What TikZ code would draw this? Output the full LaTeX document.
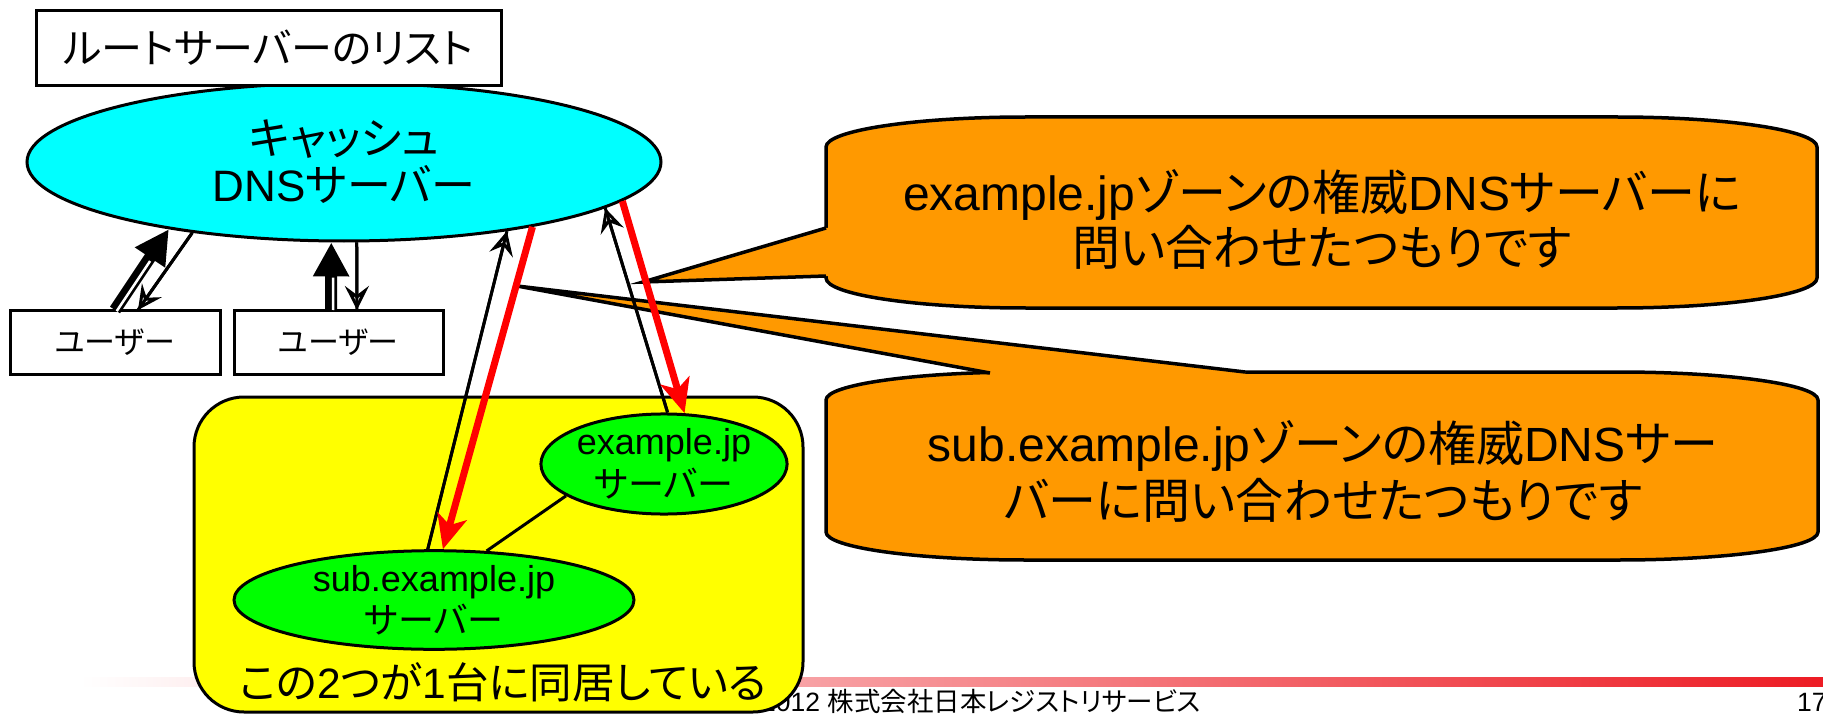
\documentclass[tikz,border=0pt]{standalone}
\usepackage{fontspec}
\setmainfont{Liberation Sans}
\newfontfamily\jpfont[RawFeature=+palt]{Noto Sans CJK JP}
\newcommand{\jtxt}[1]{{\jpfont #1}}
\newcommand{\fsz}[2]{\fontsize{#1pt}{#2pt}\selectfont}
\usetikzlibrary{shapes.geometric,arrows.meta,calc}
\definecolor{cyanfill}{RGB}{0,255,255}
\definecolor{greenfill}{RGB}{0,255,0}
\definecolor{yellowfill}{RGB}{255,255,0}
\definecolor{orangefill}{RGB}{255,153,0}
\definecolor{redline}{RGB}{255,0,0}
\definecolor{footred}{RGB}{237,28,36}
\begin{document}
\begin{tikzpicture}[x=1pt,y=-1pt,
  box/.style={draw=black,line width=3pt,fill=white,inner sep=0pt},
  ell/.style={ellipse,draw=black,line width=3pt,inner sep=0pt,align=center},
  callout/.style={fill=orangefill,draw=black,line width=3.5pt,line join=round},
  thinarrow/.style={draw=black,line width=3pt,-{Stealth[open,length=24pt,width=24pt,inset=9pt]}},
  thinline/.style={draw=black,line width=3pt},
  thickarrow/.style={draw=black,line width=12pt,-{Triangle[length=34pt,width=34pt]}},
  stripe/.style={draw=white,line width=2.5pt},
  redarrow/.style={draw=redline,line width=7pt,-{Stealth[length=34pt,width=30pt,inset=9pt]}},
  lbl/.style={inner sep=0pt,align=center}
]
\useasboundingbox (0,0) rectangle (1823,714);
\clip (0,0) rectangle (1823,714);
\fill[white] (0,0) rectangle (1823,714);

% footer
\shade[left color=white,middle color=footred!40!white,right color=footred] (80,677) rectangle (1823,686);
\node[anchor=base west,inner sep=0pt,font=\fsz{26.5}{30}] (foot) at (761,711) {2012 \jtxt{株式会社日本レジストリサービス}};
\node[anchor=base west,inner sep=0pt,font=\fsz{26.5}{30}] (page) at (1797,711) {17};

% group box
\node[draw=black,line width=3pt,fill=yellowfill,rounded corners=50pt,minimum width=609pt,minimum height=315pt] (grp) at (498.5,554.5) {};
\node[lbl,font=\fsz{42.5}{46}] (grptxt) at (503,682) {\jtxt{この}2\jtxt{つが}1\jtxt{台に同居している}};

% cache server and root list
\node[ell,fill=cyanfill,minimum width=634pt,minimum height=158pt,font=\fsz{44}{47}] (cache) at (344,162) {\jtxt{キャッシュ}\\DNS\jtxt{サーバー}};
\node[box,minimum width=465pt,minimum height=75pt,font=\fsz{41}{46}] (root) at (268.5,48) {\jtxt{ルートサーバーのリスト}};

% users
\node[box,minimum width=210pt,minimum height=64pt,font=\fsz{31}{36}] (u1) at (115,342) {\jtxt{ユーザー}};
\node[box,minimum width=209pt,minimum height=64pt,font=\fsz{31}{36}] (u2) at (338.5,342) {\jtxt{ユーザー}};

% authoritative servers
\node[ell,fill=greenfill,minimum width=244pt,minimum height=92pt,font=\fsz{36}{43}] (ex) at (664,464) {example.jp\\\jtxt{サーバー}};
\node[ell,fill=greenfill,minimum width=400pt,minimum height=92pt,font=\fsz{36}{42}] (sub) at (434,600) {sub.example.jp\\\jtxt{サーバー}};
\draw[thinline] (ex.198) -- (sub.43);

% callouts
\path[callout] (826,147) -- (826,278)
  .. controls (826,294.6) and (915.5,308) .. (1026,308) -- (1617,308)
  .. controls (1727.5,308) and (1817,294.6) .. (1817,278) -- (1817,147)
  .. controls (1817,130.4) and (1727.5,117) .. (1617,117) -- (1026,117)
  .. controls (915.5,117) and (826,130.4) .. (826,147) -- cycle;
\fill[orangefill] (826,228) -- (643,282) -- (826,276) -- (834,276) -- (834,228) -- cycle;
\draw[line width=3.5pt,line join=miter] (826,228) -- (643,282) -- (826,276);
\node[lbl,font=\fsz{48}{55}] (c1) at (1322,219) {example.jp\jtxt{ゾーンの権威}DNS\jtxt{サーバーに}\\\jtxt{問い合わせたつもりです}};

\path[callout] (826,400) -- (826,532)
  .. controls (826,547.5) and (915.5,560) .. (1026,560) -- (1618,560)
  .. controls (1728.5,560) and (1818,547.5) .. (1818,532) -- (1818,400)
  .. controls (1818,384.5) and (1728.5,372) .. (1618,372) -- (1026,372)
  .. controls (915.5,372) and (826,384.5) .. (826,400) -- cycle;
\fill[orangefill] (990,373) -- (517,286) -- (1245,372) -- (1245,381) -- (990,381) -- cycle;
\draw[line width=3.5pt,line join=miter] (990,373) -- (517,286) -- (1245,372);
\node[lbl,font=\fsz{48}{57}] (c2) at (1323,471) {sub.example.jp\jtxt{ゾーンの権威}DNS\jtxt{サー}\\\jtxt{バーに問い合わせたつもりです}};

% user <-> cache arrows
\coordinate (a1s) at ($(u1.north)+(0,1.5)$);
\coordinate (a2e) at ($(u1.north)+(23,1.5)$);
\coordinate (a3s) at ($(u2.north)+(-7.5,1.5)$);
\coordinate (a4e) at ($(u2.north)+(18.5,1.5)$);
\draw[thickarrow] (a1s) -- (cache.201);
\draw[stripe] ($(a1s)+(1.7,1.1)$) -- ($(a1s)!0.62!(cache.201)+(1.7,1.1)$);
\draw[thinarrow] (cache.205) -- (a2e);
\draw[thinline] (cache.205) -- (a2e);
\draw[thickarrow] (a3s) -- (cache.261);
\draw[stripe] ($(a3s)+(2,0)$) -- ($(a3s)!0.48!(cache.261)+(2,0)$);
\draw[thinarrow] (cache.279) -- (a4e);
\draw[thinline] (cache.279) -- (a4e);

% cache <-> authoritative servers
\draw[thinarrow] (sub.97) -- (cache.337);
\draw[thinline] (sub.97) -- (cache.337);
\draw[redarrow] (cache.341) -- (sub.80);
\draw[thinarrow] (ex.86) -- (cache.350);
\draw[thinline] (ex.86) -- (cache.350);
\draw[redarrow] (cache.352) -- (ex.68);
\end{tikzpicture}
\end{document}
